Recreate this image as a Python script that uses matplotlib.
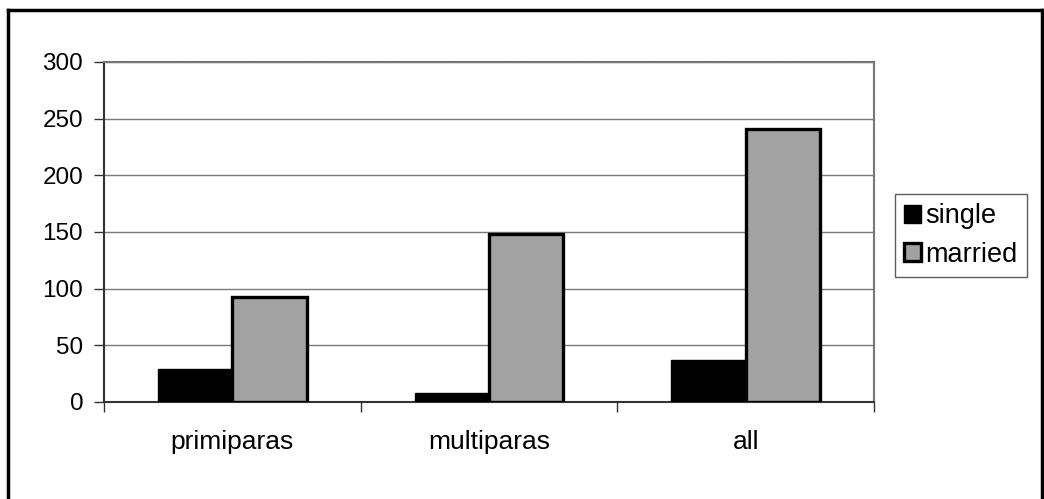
import matplotlib
matplotlib.use("Agg")
import matplotlib.pyplot as plt
from matplotlib.lines import Line2D
import numpy as np

plt.rcParams['font.family'] = ['Liberation Sans', 'DejaVu Sans']

categories = ["primiparas", "multiparas", "all"]
single = [29, 8, 37]
married = [93, 148, 241]
series_names = ["single", "married"]
yticks = [0, 50, 100, 150, 200, 250, 300]

fig = plt.figure(figsize=(10.44, 4.99), dpi=100)
ax = fig.add_axes([104/1044, 97/499, (874-104)/1044, (402-62)/499])

x = np.arange(len(categories)) + 0.5
w = 0.29
ax.bar(x - w/2, single, width=w, color='black', edgecolor='black', linewidth=1, zorder=3, label=series_names[0])
ax.bar(x + w/2, married, width=w, color='#a2a2a2', edgecolor='black', linewidth=2.4, zorder=3, label=series_names[1])

ax.set_xlim(0, 3)
ax.set_ylim(0, 300)
ax.set_yticks(yticks)
ax.yaxis.grid(True, color='#7a7a7a', linewidth=1, zorder=0)
ax.set_axisbelow(True)

ax.set_xticks([0, 1, 2, 3])
ax.set_xticklabels([])
ax.set_xticks(x, minor=True)
ax.set_xticklabels(categories, minor=True, fontsize=19)
ax.tick_params(axis='x', which='major', direction='out', length=7, width=1, color='#333333')
ax.tick_params(axis='x', which='minor', length=0, pad=20.5)
ax.tick_params(axis='y', direction='out', length=7, width=1, color='#333333', labelsize=17.5, pad=8)

for s in ['top', 'right']:
    ax.spines[s].set_color('#777777')
    ax.spines[s].set_linewidth(1.5)
    ax.spines[s].set_linestyle((0, (1, 0.5)))
for s in ['left', 'bottom']:
    ax.spines[s].set_color('#333333')
    ax.spines[s].set_linewidth(1.5)

leg = ax.legend(loc='upper left', bbox_to_anchor=(895/1044, 1-194/499), bbox_transform=fig.transFigure,
                borderaxespad=0, fontsize=19.5, frameon=True, fancybox=False, edgecolor='#333333',
                handlelength=0.62, handleheight=0.62, handletextpad=0.15, labelspacing=0.45,
                borderpad=0.35)
leg.get_frame().set_linewidth(1)

# outer frame
fw, fh = 1044, 499
for xs, ys in [([8, 8], [10, 499]), ([8, 1042], [10, 10]), ([1042, 1042], [10, 499])]:
    fig.add_artist(Line2D([v/fw for v in xs], [1 - v/fh for v in ys], transform=fig.transFigure,
                          color='black', linewidth=2.5))

fig.savefig("out.png", dpi=100, facecolor='white')
